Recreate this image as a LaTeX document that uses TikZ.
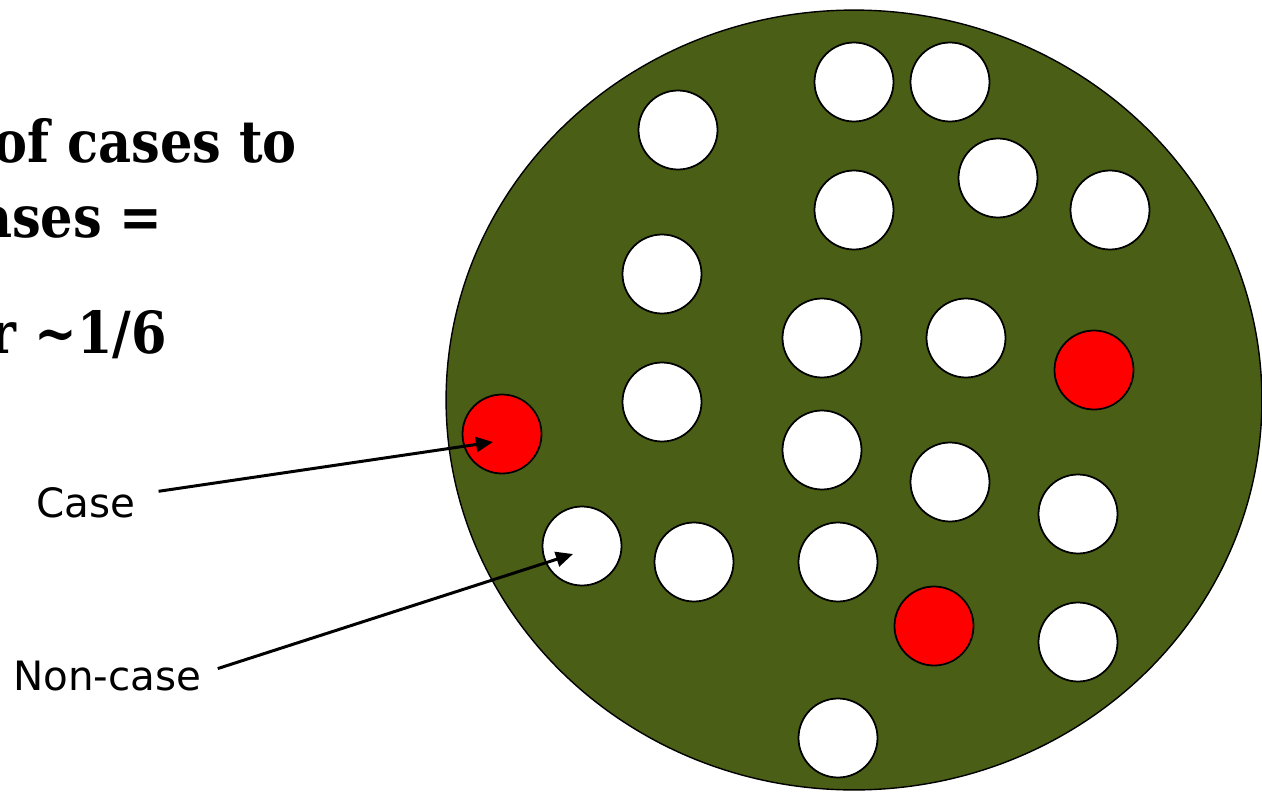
\documentclass[tikz,border=0pt]{standalone}
\usepackage{fontspec}
\usetikzlibrary{positioning,arrows.meta,shapes.geometric}
\newfontfamily\headfont[FakeStretch=0.88]{DejaVu Serif}
\newfontfamily\tagfont{DejaVu Sans}
\definecolor{poolgreen}{RGB}{74,94,21}
\definecolor{casered}{RGB}{255,0,0}
\tikzset{
  pool/.style    = {ellipse, draw, fill=poolgreen, line width=0.8pt, inner sep=0pt,
                    minimum width=16.32cm, minimum height=15.6cm},
  hole/.style    = {circle, draw, fill=white, line width=1pt, inner sep=0pt,
                    minimum size=1.58cm},
  rdot/.style    = {hole, fill=casered},
  tag/.style     = {font=\tagfont\fontsize{23}{28}\selectfont, inner sep=0pt,
                    anchor=base west},
  head/.style    = {font=\headfont\bfseries\fontsize{33}{38}\selectfont,
                    inner sep=0pt, anchor=base east},
  ptr/.style     = {line width=1.7pt, -{Triangle[length=0.34cm,width=0.3cm]}},
}
\begin{document}
\begin{tikzpicture}[x=0.02cm,y=-0.02cm]
  \useasboundingbox (0,0) rectangle (1262,792);
  \clip (0,0) rectangle (1262,792);
  % heading, cut at the left edge
  \node[head] (head1) at (297,162) {of cases to};
  \node[head] (head2) at (163,237) {cases =};
  \node[head] (head3) at (167,353) {or \textasciitilde1/6};
  % the population
  \node[pool] (pool) at (854,400) {};
  \node[hole] (n1)  at (678,130) {};
  \node[hole] (n2)  at (854,82)  {};
  \node[hole] (n3)  at (950,82)  {};
  \node[hole] (n4)  at (998,178) {};
  \node[hole] (n5)  at (1110,210) {};
  \node[hole] (n6)  at (854,210) {};
  \node[hole] (n7)  at (662,274) {};
  \node[hole] (n8)  at (822,338) {};
  \node[hole] (n9)  at (966,338) {};
  \node[hole] (n10) at (662,402) {};
  \node[hole] (n11) at (822,450) {};
  \node[hole] (n12) at (950,482) {};
  \node[hole] (n13) at (1078,514) {};
  \node[hole] (n14) at (582,546) {};
  \node[hole] (n15) at (694,562) {};
  \node[hole] (n16) at (838,562) {};
  \node[hole] (n17) at (1078,642) {};
  \node[hole] (n18) at (838,738) {};
  % cases
  \node[rdot] (c1) at (502,434) {};
  \node[rdot] (c2) at (1094,370) {};
  \node[rdot] (c3) at (934,626) {};
  % labels with pointers
  \node[tag] (caselbl) at (36,517) {Case};
  \node[tag] (noncaselbl) at (13,690) {Non-case};
  \coordinate (casetip) at (493,442);
  \coordinate (noncasetip) at (573,554);
  \draw[ptr] ([xshift=0.46cm,yshift=0.22cm]caselbl.east) -- (casetip);
  \draw[ptr] ([xshift=0.32cm,yshift=0.14cm]noncaselbl.east) -- (noncasetip);
\end{tikzpicture}
\end{document}
